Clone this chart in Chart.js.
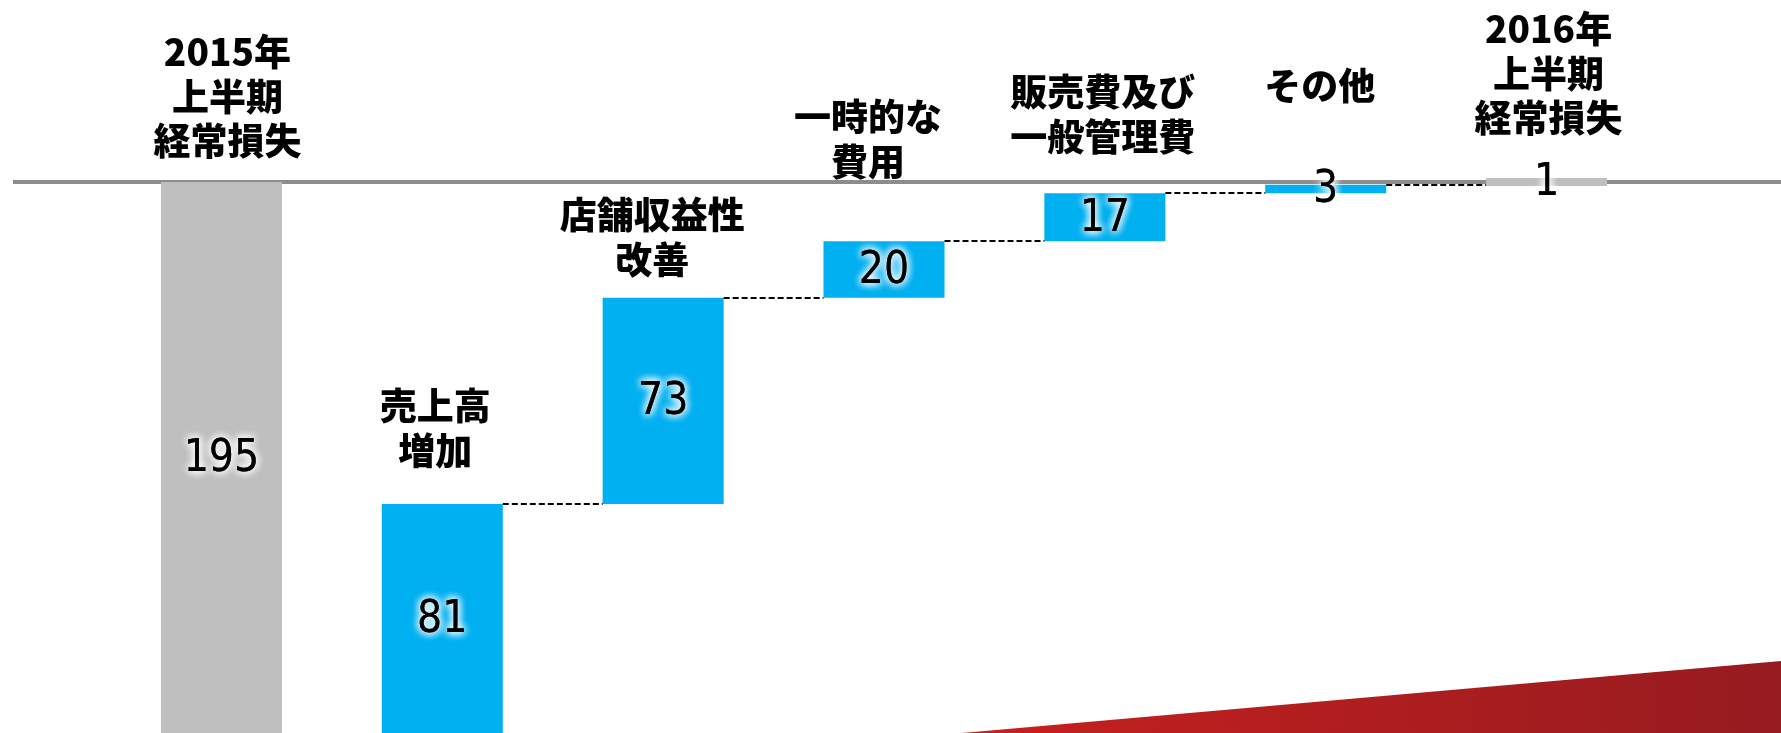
<!DOCTYPE html>
<html lang="ja">
<head>
<meta charset="utf-8">
<title>経常損失の増減</title>
<script src="https://cdn.jsdelivr.net/npm/chart.js@4.4.1/dist/chart.umd.min.js"></script>
<style>
  html, body { margin: 0; padding: 0; background: #fff; }
  #wrap { width: 1781px; height: 733px; }
</style>
</head>
<body>
<div id="wrap"><canvas id="bridge" width="1781" height="733"></canvas></div>
<script>
// Data
const categories = [
  ['2015年', '上半期', '経常損失'],
  ['売上高', '増加'],
  ['店舗収益性', '改善'],
  ['一時的な', '費用'],
  ['販売費及び', '一般管理費'],
  ['その他'],
  ['2016年', '上半期', '経常損失']
];
const values = [195, 81, 73, 20, 17, 3, 1];
const isTotal = [true, false, false, false, false, false, true];

// loss sits below zero, every improvement moves the running level up
let running = 0;
const levels = [];
const bars = values.map((v, i) => {
  if (isTotal[i]) {
    running = -v;
    levels.push(running);
    return [0, -v];
  }
  const start = running;
  running += v;
  levels.push(running);
  return [start, running];
});

const BLUE = '#00b0f0';
const GREY = '#bfbfbf';

// where the category captions sit (hand placed in the original slide)
const captionPos = [
  { dx: 6, y: 52 }, { dx: -7, y: 406 }, { dx: -11, y: 215 }, { dx: -16, y: 117 },
  { dx: -2, y: 92 }, { dx: -6, y: 86 }, { dx: 2, y: 29 }
];

// Plugins
const backdrop = {
  id: 'backdrop',
  beforeDraw(chart) {
    const { ctx, width, height } = chart;
    ctx.save();
    ctx.fillStyle = '#fff';
    ctx.fillRect(0, 0, width, height);
    const g = ctx.createLinearGradient(958, 0, width, 0);
    g.addColorStop(0, '#c8201f');
    g.addColorStop(1, '#961b20');
    ctx.fillStyle = g;
    ctx.beginPath();
    ctx.moveTo(962, height);
    ctx.lineTo(width, 661);
    ctx.lineTo(width, height);
    ctx.closePath();
    ctx.fill();
    ctx.restore();
  }
};

const zeroLine = {
  id: 'zeroLine',
  beforeDatasetsDraw(chart) {
    const { ctx, width } = chart;
    const y = chart.scales.y.getPixelForValue(0);
    ctx.save();
    ctx.strokeStyle = '#8c8c8c';
    ctx.lineWidth = 4;
    ctx.beginPath();
    ctx.moveTo(13, y);
    ctx.lineTo(width, y);
    ctx.stroke();
    ctx.restore();
  }
};

const annotations = {
  id: 'annotations',
  afterDatasetsDraw(chart) {
    const { ctx, chartArea } = chart;
    const meta = chart.getDatasetMeta(0);
    const yScale = chart.scales.y;
    ctx.save();

    // dashed connectors
    ctx.strokeStyle = '#000';
    ctx.lineWidth = 2;
    ctx.setLineDash([6, 3]);
    for (let i = 0; i < meta.data.length - 1; i++) {
      const a = meta.data[i], b = meta.data[i + 1];
      const y = Math.round(yScale.getPixelForValue(levels[i]));
      if (y > chartArea.bottom - 3) continue;
      ctx.beginPath();
      ctx.moveTo(a.x + a.width / 2, y);
      ctx.lineTo(b.x - b.width / 2, y);
      ctx.stroke();
    }
    ctx.setLineDash([]);

    // values with white glow
    ctx.font = '44px "DejaVu Sans Condensed", "DejaVu Sans", sans-serif';
    ctx.textAlign = 'center';
    ctx.textBaseline = 'middle';
    meta.data.forEach((bar, i) => {
      const c = bar.getCenterPoint();
      ctx.shadowColor = '#fff';
      ctx.shadowBlur = 9;
      ctx.fillStyle = '#000';
      for (let k = 0; k < 3; k++) ctx.fillText(String(values[i]), c.x, c.y + 2);
    });
    ctx.shadowBlur = 0;

    // category captions
    ctx.font = '900 37px "Noto Sans CJK JP", sans-serif';
    ctx.fillStyle = '#000';
    meta.data.forEach((bar, i) => {
      const p = captionPos[i];
      categories[i].forEach((line, j) => {
        ctx.fillText(line, bar.x + p.dx, p.y + j * 44.5);
      });
    });
    ctx.restore();
  }
};

// Chart
new Chart(document.getElementById('bridge'), {
  type: 'bar',
  data: {
    labels: categories.map(c => c.join('')),
    datasets: [{
      data: bars,
      backgroundColor: isTotal.map(t => t ? GREY : BLUE),
      borderWidth: 0,
      barPercentage: 0.548,
      categoryPercentage: 1,
      minBarLength: 8
    }]
  },
  options: {
    responsive: false,
    animation: false,
    devicePixelRatio: 1,
    layout: { padding: { left: 111, right: 124, top: 0, bottom: 0 } },
    scales: {
      x: { display: false },
      y: { display: false, min: -195, max: 64.4 }
    },
    plugins: {
      legend: { display: false },
      tooltip: { enabled: false }
    }
  },
  plugins: [backdrop, zeroLine, annotations]
});
</script>
</body>
</html>
